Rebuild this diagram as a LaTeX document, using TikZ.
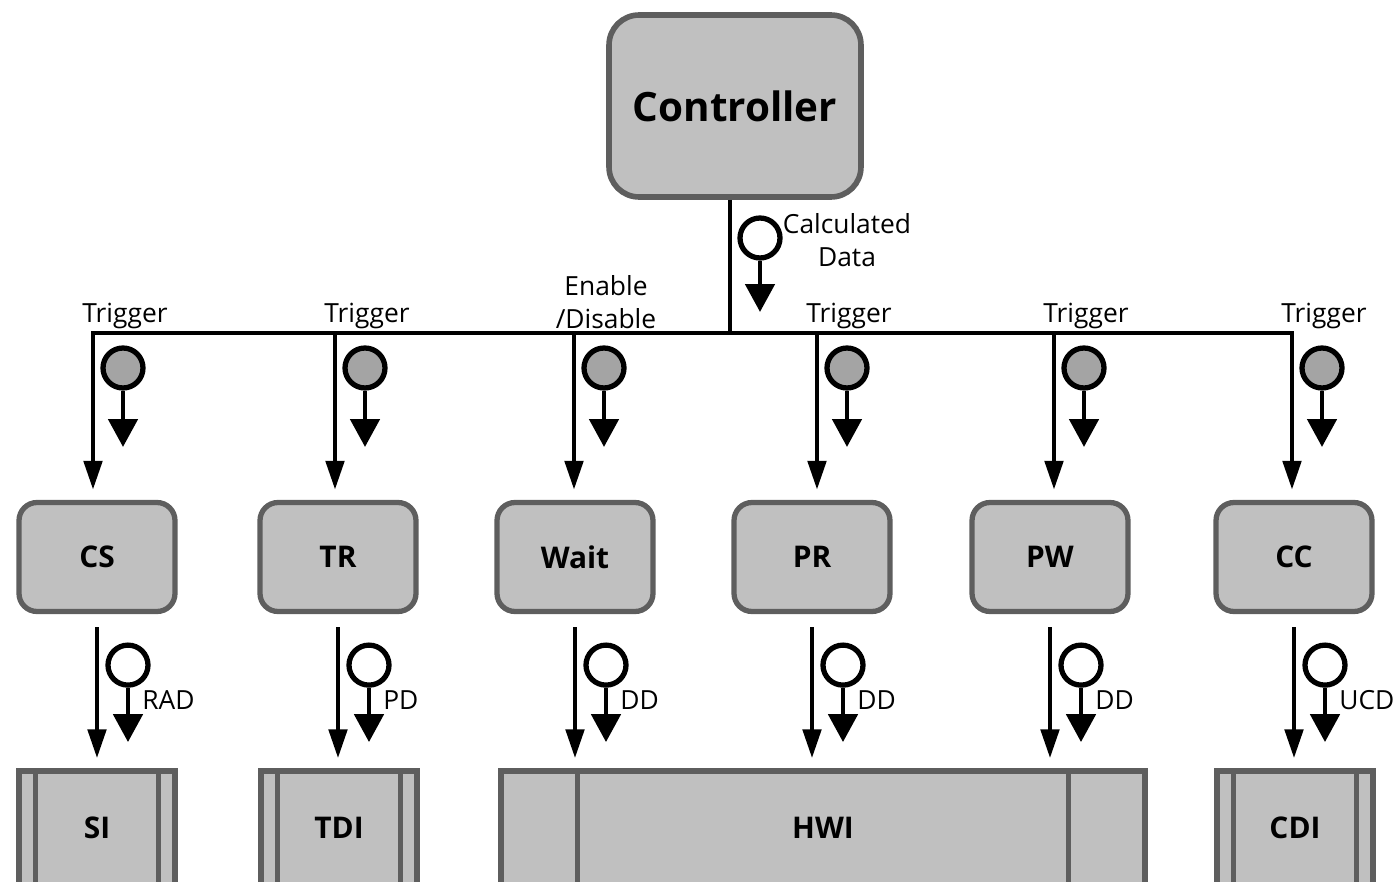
\documentclass[tikz,border=0pt]{standalone}
\usepackage{fontspec}
\setmainfont{Open Sans}
\usetikzlibrary{arrows.meta, positioning}

\definecolor{boxgray}{HTML}{C0C0C0}
\definecolor{edgegray}{HTML}{5E5E5E}
\definecolor{dotgray}{HTML}{A4A4A4}

\begin{document}
\begin{tikzpicture}[
    x=0.02cm, y=-0.02cm,
    ctrl/.style={rectangle, rounded corners=0.6cm, draw=edgegray, fill=boxgray, line width=3.2pt,
        minimum width=5.04cm, minimum height=3.64cm, font=\fontsize{23}{27}\selectfont\bfseries},
    task/.style={rectangle, rounded corners=0.36cm, draw=edgegray, fill=boxgray, line width=3pt,
        minimum width=3.12cm, minimum height=2.18cm, font=\fontsize{17}{20}\selectfont\bfseries},
    iface/.style={rectangle, draw=edgegray, fill=boxgray, line width=3pt,
        minimum width=3.12cm, minimum height=2.28cm, font=\fontsize{17}{20}\selectfont\bfseries},
    wire/.style={line width=2.8pt},
    flow/.style={wire, -{Triangle[length=0.58cm, width=0.36cm]}, shorten >=0.2cm},
    token/.style={circle, draw, line width=3pt, minimum size=0.8cm, inner sep=0pt},
    tokflow/.style={wire, -{Triangle[length=0.56cm, width=0.58cm]}},
    lbl/.style={font=\fontsize{15}{18.6}\selectfont, align=center, inner sep=0pt}
]
\path[use as bounding box, clip] (0,0) rectangle (1400,882);

% Controller
\node[ctrl] (ctrl) at (735,106) {Controller};

% Task row
\node[task] (cs)   at (97,557)  {CS};
\node[task] (tr)   at (338,557) {TR};
\node[task] (wait) at (575,557) {Wait};
\node[task] (pr)   at (812,557) {PR};
\node[task] (pw)   at (1050,557) {PW};
\node[task] (cc)   at (1294,557) {CC};

% Interface row
\node[iface] (si)  at (97,828)  {SI};
\node[iface] (tdi) at (339,828) {TDI};
\node[iface, minimum width=12.88cm] (hwi) at (823,828) {HWI};
\node[iface] (cdi) at (1295,828) {CDI};
\foreach \nm/\off in {si/0.38cm, tdi/0.38cm, cdi/0.38cm, hwi/1.58cm} {
    \draw[edgegray, line width=3pt] ([xshift=\off]\nm.north west) -- ([xshift=\off]\nm.south west);
    \draw[edgegray, line width=3pt] ([xshift=-\off]\nm.north east) -- ([xshift=-\off]\nm.south east);
}

% Bus
\coordinate (join) at (730,333);
\draw[wire] (ctrl.south -| join) -- (join);
\node[token, fill=white] (calc) at (760,238) {};
\coordinate (calctip) at (760,312);
\draw[tokflow] (calc) -- (calctip);
\node[lbl] (calclbl) at (847,240) {Calculated\\Data};

\foreach \nm/\dx/\txt in {cs/93/Trigger, tr/335/Trigger, wait/574/{Enable\\/Disable},
        pr/817/Trigger, pw/1054/Trigger, cc/1292/Trigger} {
    \coordinate (top-\nm) at (\dx,333);
    \draw[flow] (top-\nm) -- (top-\nm |- \nm.north);
    \node[lbl, anchor=south] (trig-\nm) at ({\dx+32},329) {\txt};
    \node[token, fill=dotgray] (tok-\nm) at ({\dx+30},368) {};
    \coordinate (tip-\nm) at ({\dx+30},447);
    \draw[tokflow] (tok-\nm) -- (tip-\nm);
}
\draw[wire, line cap=rect] (top-cs) -- (top-cc);

% Data to interfaces
\foreach \nm/\inf/\txt in {cs/si/RAD, tr/tdi/PD, wait/hwi/DD, pr/hwi/DD, pw/hwi/DD, cc/cdi/UCD} {
    \draw[flow, shorten <=0.26cm] (\nm.south) -- (\nm.south |- \inf.north);
    \node[token, fill=white] (dat-\nm) at ([xshift=0.62cm, yshift=-1.02cm]\nm.south) {};
    \coordinate (dtip-\nm) at ([yshift=-1.54cm]dat-\nm);
    \draw[tokflow] (dat-\nm) -- (dtip-\nm);
    \node[lbl, anchor=west] (dlbl-\nm) at ([xshift=0.28cm, yshift=-0.7cm]dat-\nm) {\txt};
}

\end{tikzpicture}
\end{document}
